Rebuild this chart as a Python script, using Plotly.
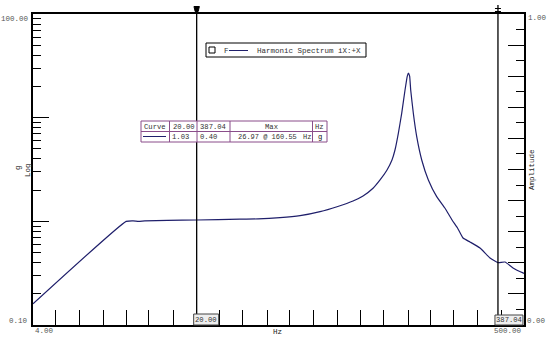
import numpy as np
import plotly.graph_objects as go

# ---------------- data ----------------
freq_hz = [4.00, 10.0, 10.7, 11.3, 12.0, 15.0, 20.00, 30.6, 36.6, 45.4, 55.3, 67.3, 79.5,
           93.1, 102.7, 113.3, 121.4, 130.0, 136.5, 140.6, 145.3, 150.2, 155.2, 158.7,
           160.55, 162.4, 164.1, 168.4, 174.1, 182.9, 195.2, 211.9, 230.0, 246.4, 260.0,
           274.5, 294.0, 324.4, 358.0, 387.04, 414.9, 448.8, 495.0, 500.0]
accel_g = [0.160, 1.00, 1.012, 1.00, 1.01, 1.02, 1.03, 1.05, 1.055, 1.084, 1.133, 1.239, 1.384,
           1.571, 1.756, 2.083, 2.505, 3.128, 3.906, 4.877, 7.07, 11.02, 18.49, 25.2,
           26.97, 25.2, 18.49, 11.02, 6.55, 3.906, 2.505, 1.729, 1.336, 1.03, 0.863,
           0.69, 0.632, 0.553, 0.443, 0.40, 0.405, 0.355, 0.318, 0.315]
series_name = "Harmonic Spectrum iX:+X"
legend_tag = "F"
cursor_hz = [20.00, 387.04]
x_range = [4.00, 500.00]
y_range = [0.10, 100.00]
amp_range = [0.00, 1.00]
third_octave_hz = [5, 6.3, 8, 10, 12.5, 16, 20, 25, 31.5, 40, 50, 63, 80, 100, 125, 160,
                   200, 250, 315, 400]
y_major = [0.1, 1, 10, 100]
y_minor = [m * d for d in (0.1, 1, 10) for m in range(2, 10)]
amp_major = [round(0.1 * i, 2) for i in range(11)]
x_label = "Hz"
y_label_unit = "g"
y_label_scale = "Log"
y2_label = "Amplitude"
table_header = ["Curve", f"{cursor_hz[0]:.2f}", f"{cursor_hz[1]:.2f}", "Max", "Hz"]
unit_hz = "Hz"

# ---------------- geometry (pixels of the 550x346 page) ----------------
L, R, T, B = 33, 524, 14, 325
W, H = 550, 346
NAVY = "#1f1f6b"
GRAY = "#555555"
PURPLE = "#8a4d8a"
FONT = "Liberation Mono"


def px(x):
    return (x - L) / (R - L)


def py(y):
    return (B - y) / (B - T)


def fx(f):
    lo, hi = np.log10(x_range[0]), np.log10(x_range[1])
    return (np.log10(f) - lo) / (hi - lo)


def fx_px(f):
    return L + fx(f) * (R - L)


# cursor readouts and maximum, from the data
lf = np.log10(freq_hz)
lv = np.log10(accel_g)
cursor_vals = [10 ** np.interp(np.log10(c), lf, lv) for c in cursor_hz]
imax = int(np.argmax(accel_g))
max_text = f"{accel_g[imax]:.2f} @ {freq_hz[imax]:.2f}"

fig = go.Figure()
fig.add_trace(go.Scatter(x=freq_hz, y=accel_g, mode="lines", name=series_name,
                         line=dict(color=NAVY, width=1.2, shape="spline", smoothing=0.4),
                         showlegend=False, hoverinfo="skip"))
fig.add_trace(go.Scatter(x=[x_range[0]], y=[amp_range[0]], yaxis="y2", mode="lines",
                         showlegend=False, hoverinfo="skip", line=dict(width=0)))

shapes = []
annots = []


def text(x, y, s, xanchor="center", color=GRAY, size=7.5, angle=0, yanchor="middle"):
    annots.append(dict(x=px(x), y=py(y), xref="paper", yref="paper", text=s,
                       showarrow=False, xanchor=xanchor, yanchor=yanchor, textangle=angle,
                       font=dict(family=FONT, size=size, color=color)))


def line(x0, y0, x1, y1, color="black", width=1):
    shapes.append(dict(type="line", xref="paper", yref="paper", x0=px(x0), y0=py(y0),
                       x1=px(x1), y1=py(y1), line=dict(color=color, width=width),
                       layer="above"))


def rect(x0, y0, x1, y1, color="black", width=1, fill="white"):
    shapes.append(dict(type="rect", xref="paper", yref="paper", x0=px(x0), y0=py(y0),
                       x1=px(x1), y1=py(y1), line=dict(color=color, width=width),
                       fillcolor=fill, layer="above"))


# cursors
c0, c1 = fx_px(cursor_hz[0]), fx_px(cursor_hz[1])
line(c0, B, c0, 7, width=1.3)
line(c1, B, c1, 5, width=1.3)
shapes.append(dict(type="path", xref="paper", yref="paper",
                   path=f"M {px(c0-2.7)},{py(6.5)} L {px(c0+2.7)},{py(6.5)} "
                        f"L {px(c0+1.5)},{py(11.5)} L {px(c0-1.5)},{py(11.5)} Z",
                   fillcolor="black", line=dict(color="black", width=1), layer="above"))
line(c1 - 3, 8.5, c1 + 3, 8.5)
line(c1 - 3, 11.5, c1 + 3, 11.5)

# cursor value boxes at bottom
rect(c0 - 3, 314, c0 + 22, B, color="#444444", fill="#eeeeee")
text(c0 + 9.5, 319.5, f"{cursor_hz[0]:.2f}", color="#333333", size=7.2)
rect(c1 - 3, 315, c1 + 25, B, color="#444444", fill="#eeeeee")
text(c1 + 11, 320, f"{cursor_hz[1]:.2f}", color="#333333", size=7.2)

# legend box
rect(206, 43, 366, 57, width=1)
rect(209, 47, 215, 53, width=1)
text(222, 50.5, legend_tag, xanchor="left", color="#333333")
line(229, 50.5, 248, 50.5, color=NAVY, width=1)
text(255, 50.5, series_name, xanchor="left", color="#333333")

# readout table
rect(141, 121, 327, 142, color=PURPLE, width=1)
line(141, 131.5, 327, 131.5, color=PURPLE)
for xv in (169.5, 197, 230, 312.5):
    line(xv, 121, xv, 142, color=PURPLE)
hdr_x = [154.5, 183.5, 213, 271, 319]
for s, xx in zip(table_header, hdr_x):
    text(xx, 126.5, s, color="#333333", size=7.2)
line(143, 136.5, 166, 136.5, color=NAVY)
text(180.5, 137, f"{cursor_vals[0]:.2f}", color="#333333", size=7.2)
text(208.5, 137, f"{cursor_vals[1]:.2f}", color="#333333", size=7.2)
text(236, 137, max_text, xanchor="left", color="#333333", size=7.0)
text(300.5, 137, unit_hz, xanchor="left", color="#333333", size=7.0)
text(319.5, 137, y_label_unit, color="#111111", size=7.2)

# axis end labels
text(31, 19, f"{y_range[1]:.2f}", xanchor="right")
text(30, 321, f"{y_range[0]:.2f}", xanchor="right")
text(33, 331.5, f"{x_range[0]:.2f}", xanchor="left")
text(524, 331.5, f"{x_range[1]:.2f}", xanchor="right")
text(526, 18.5, f"{amp_range[1]:.2f}", xanchor="left")
text(525, 321, f"{amp_range[0]:.2f}", xanchor="left")
text(277, 332, x_label, color="#222222")
text(18, 168, y_label_unit, color="#222222", angle=-90)
text(28, 170, y_label_scale, color="#222222", angle=-90)
text(532, 170, y2_label, color="#222222", angle=-90)

fig.update_layout(
    width=W, height=H,
    margin=dict(l=L, r=W - R, t=T, b=H - B, pad=0),
    paper_bgcolor="white", plot_bgcolor="white",
    showlegend=False,
    xaxis=dict(type="log", range=[np.log10(x_range[0]), np.log10(x_range[1])],
               showgrid=False, zeroline=False, showline=True, mirror=True,
               linecolor="black", linewidth=1.5,
               tickmode="array", tickvals=third_octave_hz, ticks="inside",
               ticklen=15, tickwidth=1.2, tickcolor="black", showticklabels=False),
    yaxis=dict(type="log", range=[np.log10(y_range[0]), np.log10(y_range[1])],
               showgrid=False, zeroline=False, showline=True, mirror=True,
               linecolor="black", linewidth=1.5,
               tickmode="array", tickvals=y_major, ticks="inside", ticklen=16,
               tickwidth=1.2, tickcolor="black", showticklabels=False,
               minor=dict(tickmode="array", tickvals=y_minor, ticks="inside", ticklen=8,
                          tickwidth=1.2, tickcolor="black", showgrid=False)),
    yaxis2=dict(overlaying="y", side="right", anchor="x", range=amp_range,
                showgrid=False, zeroline=False, showline=False,
                tickmode="array", tickvals=amp_major, ticks="inside", ticklen=16,
                tickwidth=1.2, tickcolor="black", showticklabels=False,
                minor=dict(dtick=0.05, ticks="inside", ticklen=8, tickwidth=1.2,
                           tickcolor="black", showgrid=False)),
    shapes=shapes,
    annotations=annots,
)

fig.write_html("out.html")
